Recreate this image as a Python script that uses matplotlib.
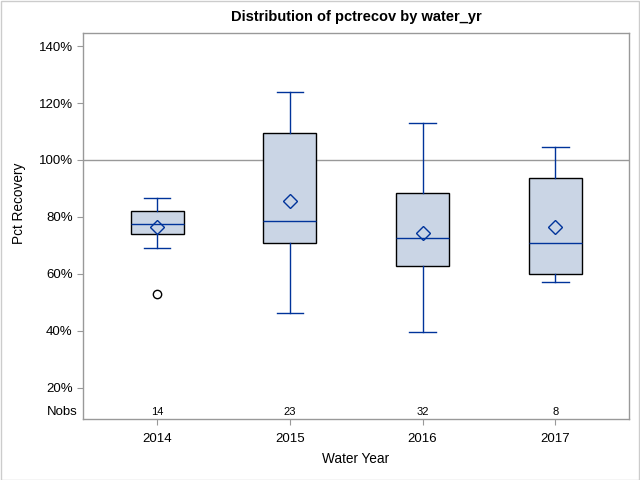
import matplotlib
matplotlib.use("Agg")
import matplotlib.pyplot as plt
from matplotlib.patches import Rectangle

plt.rcParams['font.family'] = ['Liberation Sans', 'DejaVu Sans']

years = ['2014', '2015', '2016', '2017']
whislo = [69.2, 46.4, 39.4, 57.2]
q1 = [74.1, 70.9, 62.8, 60.0]
med = [77.6, 78.7, 72.7, 70.9]
q3 = [82.2, 109.6, 88.5, 93.8]
whishi = [86.7, 124.0, 113.1, 104.7]
means = [76.6, 85.7, 74.2, 76.5]
outliers = [[53.0], [], [], []]
nobs = [14, 23, 32, 8]
yticks = [20, 40, 60, 80, 100, 120, 140]

box_fill = '#CAD5E5'
blue = '#00339A'

fig = plt.figure(figsize=(6.4, 4.8), dpi=100)
ax = fig.add_axes([83/640, 1-419/480, (629-83)/640, (419-33)/480])

stats = []
for i in range(len(years)):
    stats.append(dict(med=med[i], q1=q1[i], q3=q3[i], whislo=whislo[i],
                      whishi=whishi[i], mean=means[i], fliers=outliers[i], label=years[i]))

ax.axhline(100, color='#999999', lw=1, zorder=1)

ax.bxp(stats, positions=range(len(years)), widths=0.4, patch_artist=True,
       showmeans=True, showfliers=True,
       boxprops=dict(facecolor=box_fill, edgecolor='black', linewidth=1.0),
       medianprops=dict(color=blue, linewidth=1.0),
       whiskerprops=dict(color=blue, linewidth=1.0),
       capprops=dict(color=blue, linewidth=1.0),
       capwidths=0.2,
       meanprops=dict(marker='D', markerfacecolor='none', markeredgecolor=blue,
                      markersize=7, markeredgewidth=1.0),
       flierprops=dict(marker='o', markerfacecolor='none', markeredgecolor='black',
                       markersize=6, markeredgewidth=1.0),
       zorder=3)

ax.set_xlim(-0.558, 3.555)
ax.set_ylim(9.0, 144.6)
ax.set_yticks(yticks)
ax.set_yticklabels([f'{v}%' for v in yticks])
ax.set_xticks(range(len(years)))
ax.set_xticklabels(years)

for i, n in enumerate(nobs):
    ax.text(i, 11.5, str(n), ha='center', va='center', fontsize=8, color='black')
ax.text(-0.01, 11.5, 'Nobs', transform=ax.get_yaxis_transform(), ha='right',
        va='center', fontsize=9.5)

for s in ax.spines.values():
    s.set_color('#999999')
    s.set_linewidth(1)
ax.tick_params(colors='#999999', labelcolor='black', labelsize=9.5, length=4)
ax.tick_params(axis='x', pad=6)

ax.set_xlabel('Water Year', fontsize=9.8)
ax.set_ylabel('Pct Recovery', fontsize=9.8)
ax.xaxis.set_label_coords(0.5, -0.1036)
ax.yaxis.set_label_coords(-0.117, 0.56)
for lab in (ax.xaxis.label, ax.yaxis.label):
    lab.set_verticalalignment('center')
ax.set_title('Distribution of pctrecov by water_yr', fontsize=10.5, fontweight='bold', pad=9)

fig.patches.append(Rectangle((0.5/640, 0.5/480), 1-1.5/640, 1-1.5/480,
                             transform=fig.transFigure, fill=False,
                             edgecolor='#cccccc', lw=1))

fig.savefig('out.png', dpi=100)
